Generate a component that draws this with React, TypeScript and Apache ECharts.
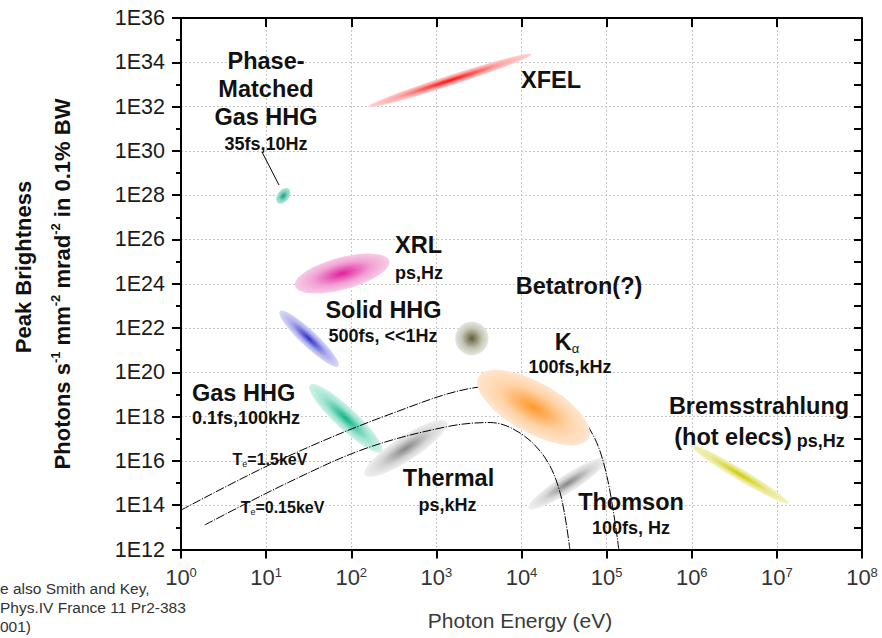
import React, { useEffect, useRef } from 'react';
import * as echarts from 'echarts';

const FONT = '"Liberation Sans", Arial, Helvetica, sans-serif';

// Thermal emission curves: photon energy (eV) and peak brightness
const curveHotEnergy = [1, 14.5, 310, 3266, 11060, 30100, 67300, 101000, 139000];
const curveHotBright = [6e13, 1.1e16, 1.45e18, 2.2e19, 2.7e19, 7.7e18, 1.8e17, 1.95e15, 1e12];
const curveColdEnergy = [1.9, 19, 152, 1325, 4290, 9660, 19000, 28500, 37000];
const curveColdBright = [1.28e13, 1.15e15, 3.8e16, 3.5e17, 5.4e17, 1.8e17, 1.35e16, 3.5e14, 1e12];

// Source regions: extent along the main axis (energy in eV, brightness)
const sourceNames = ['XFEL', 'Phase-Matched Gas HHG', 'XRL', 'Solid HHG', 'Betatron', 'Gas HHG', 'Kα', 'Thermal', 'Thomson', 'Bremsstrahlung'];
const sourceEnergyFrom = [158, 13.7, 21.8, 14.5, 1660, 32.7, 3120, 145, 12100, 9.7e5];
const sourceBrightFrom = [9.8e31, 4.5e27, 7.9e23, 5.8e22, 3.4e21, 2.7e19, 6.3e19, 2.3e15, 7.2e13, 5.2e16];
const sourceEnergyTo = [13000, 18.5, 280, 70.3, 4100, 228, 61400, 1325, 101000, 1.38e7];
const sourceBrightTo = [2.3e34, 1.9e28, 1.07e25, 1.9e20, 3.4e21, 2.6e16, 1.05e17, 5.9e17, 1.3e16, 1.2e14];

// Axis ticks (exponents)
const xExponents = [0, 8];
const yExponents = [12, 36];

// Styles of the regions
const sourceWidthRatio = [0.06, 0.65, 0.33, 0.2, 1, 0.22, 0.4, 0.25, 0.19, 0.1];
const sourceCore = ['#ff0a0a', '#10a080', '#e0209f', '#3030cc', '#5e5e36', '#10b48a', '#ff982c', '#888888', '#868686', '#cccc00'];
const sourceEdge = ['#ffd2d2', '#aee6d6', '#f7cce6', '#d8d8f6', '#e6e6de', '#cff2e7', '#ffe6d0', '#efefef', '#f0f0f0', '#f3f3c4'];
const sourceOnTop = [false, false, false, false, false, false, true, false, false, false];

function hexRgb(c: string) {
  return [parseInt(c.slice(1, 3), 16), parseInt(c.slice(3, 5), 16), parseInt(c.slice(5, 7), 16)];
}
function mix(a: string, b: string, t: number) {
  const A = hexRgb(a);
  const B = hexRgb(b);
  return 'rgb(' + A.map((v, i) => Math.round(v + (B[i] - v) * t)).join(',') + ')';
}

const lg = (v: number) => Math.log10(v);

function regionData(top: boolean) {
  const out: number[][] = [];
  sourceNames.forEach((_, i) => {
    if (sourceOnTop[i] !== top) return;
    out.push([lg(sourceEnergyFrom[i]), lg(sourceBrightFrom[i]), lg(sourceEnergyTo[i]), lg(sourceBrightTo[i]), i]);
  });
  return out;
}

const renderRegion = (params: any, api: any) => {
  const p1 = api.coord([api.value(0), api.value(1)]);
  const p2 = api.coord([api.value(2), api.value(3)]);
  const i = api.value(4) as number;
  const dx = p2[0] - p1[0];
  const dy = p2[1] - p1[1];
  const a = Math.hypot(dx, dy) / 2;
  const b = a * sourceWidthRatio[i];
  const core = sourceCore[i];
  const edge = sourceEdge[i];
  return {
    type: 'ellipse',
    x: (p1[0] + p2[0]) / 2,
    y: (p1[1] + p2[1]) / 2,
    rotation: -Math.atan2(dy, dx),
    shape: { cx: 0, cy: 0, rx: a, ry: b },
    style: {
      fill: new echarts.graphic.RadialGradient(0.5, 0.5, 0.5, [
        { offset: 0, color: core },
        { offset: 0.2, color: mix(core, edge, 0.25) },
        { offset: 0.6, color: mix(core, edge, 0.75) },
        { offset: 1, color: edge },
      ]),
      stroke: null,
    },
  };
};

const INK = '#111';

function label(text: string, x: number, y: number, size: number, align: string = 'center', extra: any = {}) {
  return {
    type: 'text',
    x,
    y,
    silent: true,
    z: 100,
    style: {
      text,
      fill: INK,
      font: `bold ${size}px ${FONT}`,
      fontSize: size,
      fontWeight: 'bold',
      fontFamily: FONT,
      align,
      verticalAlign: 'middle',
      textAlign: align,
      textVerticalAlign: 'middle',
      ...extra,
    },
  };
}

const BIG = 23.5;
const SMALL = 18;

function buildOption() {
  const axisLine = { show: true, onZero: false, lineStyle: { color: '#000', width: 2 } };
  const grid = { color: '#c6c6c6', type: [2, 2], width: 1 };
  const curveDash = [9, 1.5, 1.2, 1.5];

  const teRich = {
    t: { fontSize: 16, fontWeight: 'bold', fontFamily: FONT, fill: INK, color: INK, lineHeight: 18 },
    e: { fontSize: 9, fontWeight: 'normal', fontFamily: FONT, fill: INK, color: INK, lineHeight: 9, verticalAlign: 'bottom' },
  };

  const graphic: any[] = [
    // y-axis title
    {
      type: 'text', x: 23, y: 267, rotation: Math.PI / 2, silent: true,
      style: { text: 'Peak Brightness', fill: INK, font: `bold 22px ${FONT}`, align: 'center', verticalAlign: 'middle', textAlign: 'center', textVerticalAlign: 'middle' },
    },
    {
      type: 'text', x: 62, y: 284, rotation: Math.PI / 2, silent: true,
      style: {
        text: '{m|Photons s}{u|-1}{m| mm}{u|-2}{m| mrad}{u|-2}{m| in 0.1% BW}',
        align: 'center', verticalAlign: 'middle', textAlign: 'center', textVerticalAlign: 'middle',
        fontSize: 22, fontWeight: 'bold', fontFamily: FONT, fill: INK,
        rich: {
          m: { fontSize: 22, fontWeight: 'bold', fontFamily: FONT, fill: INK, color: INK, lineHeight: 26 },
          u: { fontSize: 13, fontWeight: 'bold', fontFamily: FONT, fill: INK, color: INK, lineHeight: 12, verticalAlign: 'top' },
        },
      },
    },
    // x-axis title
    {
      type: 'text', x: 520, y: 620, silent: true,
      style: { text: 'Photon Energy (eV)', fill: '#3a3a3a', font: `21px ${FONT}`, align: 'center', verticalAlign: 'middle', textAlign: 'center', textVerticalAlign: 'middle' },
    },
    // footnote (cropped at the left)
    ...['e also Smith and Key,', 'Phys.IV France 11 Pr2-383', '001)'].map((t, k) => ({
      type: 'text', x: 0, y: 588 + k * 19, silent: true,
      style: { text: t, fill: '#333', font: `15.5px ${FONT}`, align: 'left', verticalAlign: 'middle', textAlign: 'left', textVerticalAlign: 'middle' },
    })),
    // pointer for phase-matched HHG
    { type: 'line', silent: true, z: 100, shape: { x1: 262, y1: 152, x2: 279, y2: 185 }, style: { stroke: '#000', lineWidth: 1 } },
    // annotations
    label('Phase-', 266, 61, BIG),
    label('Matched', 266, 89, BIG),
    label('Gas HHG', 266, 117, BIG),
    label('35fs,10Hz', 266, 143.5, SMALL),
    label('XFEL', 551, 80, BIG),
    label('XRL', 395, 245, BIG, 'left'),
    label('ps,Hz', 395, 273, SMALL, 'left'),
    label('Betatron(?)', 579, 286, BIG),
    label('Solid HHG', 383.5, 310, BIG),
    label('500fs, <<1Hz', 383, 336, SMALL),
    label('{k|K}{a|α}', 567, 342, BIG, 'center', {
      rich: {
        k: { fontSize: BIG, fontWeight: 'bold', fontFamily: FONT, fill: INK, color: INK, lineHeight: 26 },
        a: { fontSize: 13, fontWeight: 'normal', fontFamily: FONT, fill: INK, color: INK, lineHeight: 12, verticalAlign: 'bottom' },
      },
    }),
    label('100fs,kHz', 570, 367, SMALL),
    label('Gas HHG', 192, 393, BIG, 'left'),
    label('0.1fs,100kHz', 192, 418, SMALL, 'left'),
    label('{t|T}{e|e}{t|=1.5keV}', 270, 459, 16, 'center', { rich: teRich }),
    label('{t|T}{e|e}{t|=0.15keV}', 282.5, 507, 16, 'center', { rich: teRich }),
    label('Thermal', 448.5, 478, BIG),
    label('ps,kHz', 447.5, 505, SMALL),
    label('Thomson', 631, 502, BIG),
    label('100fs, Hz', 631, 528, SMALL),
    label('Bremsstrahlung', 759, 406, BIG),
    label('{b|(hot elecs)}{s| ps,Hz}', 759.5, 437, BIG, 'center', {
      rich: {
        b: { fontSize: BIG, fontWeight: 'bold', fontFamily: FONT, fill: INK, color: INK, lineHeight: 26 },
        s: { fontSize: SMALL, fontWeight: 'bold', fontFamily: FONT, fill: INK, color: INK, lineHeight: 22, verticalAlign: 'bottom' },
      },
    }),
  ];

  return {
    animation: false,
    backgroundColor: '#fff',
    grid: { left: 181, right: 20, top: 18, bottom: 88.5, containLabel: false, outerBoundsMode: 'none' },
    xAxis: [
      {
        type: 'value', position: 'bottom', min: xExponents[0], max: xExponents[1], interval: 1,
        axisLine,
        axisTick: { show: true, inside: false, length: 9, lineStyle: { color: '#000', width: 2 } },
        axisLabel: {
          margin: 16,
          formatter: (v: number) => `{b|10}{s|${Math.round(v)}}`,
          rich: {
            b: { fontSize: 22, fontFamily: FONT, color: '#333', lineHeight: 24 },
            s: { fontSize: 13, fontFamily: FONT, color: '#333', lineHeight: 9, verticalAlign: 'top' },
          },
        },
        splitLine: { show: true, lineStyle: grid },
      },
      {
        type: 'value', position: 'top', min: xExponents[0], max: xExponents[1], interval: 1,
        axisLine,
        axisTick: { show: true, inside: true, length: 9, lineStyle: { color: '#000', width: 2 } },
        axisLabel: { show: false },
        splitLine: { show: false },
      },
    ],
    yAxis: [
      {
        type: 'value', position: 'left', min: yExponents[0], max: yExponents[1], interval: 2,
        axisLine,
        axisTick: { show: true, inside: false, length: 9, lineStyle: { color: '#000', width: 2 } },
        minorTick: { show: true, splitNumber: 2, length: 5, lineStyle: { color: '#000', width: 2 } },
        axisLabel: { margin: 16, formatter: (v: number) => '1E' + Math.round(v), fontSize: 21.5, fontFamily: FONT, color: '#1a1a1a' },
        splitLine: { show: true, lineStyle: grid },
      },
      {
        type: 'value', position: 'right', min: yExponents[0], max: yExponents[1], interval: 1,
        axisLine,
        axisTick: { show: true, inside: true, length: 8, lineStyle: { color: '#000', width: 2 } },
        axisLabel: { show: false },
        splitLine: { show: false },
      },
    ],
    series: [
      {
        type: 'custom', name: 'regions', z: 2, silent: true, renderItem: renderRegion,
        encode: { x: [0, 2], y: [1, 3] }, data: regionData(false), clip: true,
      },
      {
        type: 'line', name: 'Te=1.5keV', z: 3, silent: true, showSymbol: false, smooth: 0.35,
        data: curveHotEnergy.map((e, i) => [lg(e), lg(curveHotBright[i])]),
        lineStyle: { color: '#000', width: 1, type: curveDash }, clip: true,
      },
      {
        type: 'line', name: 'Te=0.15keV', z: 3, silent: true, showSymbol: false, smooth: 0.35,
        data: curveColdEnergy.map((e, i) => [lg(e), lg(curveColdBright[i])]),
        lineStyle: { color: '#000', width: 1, type: curveDash }, clip: true,
      },
      {
        type: 'custom', name: 'regionsTop', z: 4, silent: true, renderItem: renderRegion,
        encode: { x: [0, 2], y: [1, 3] }, data: regionData(true), clip: true,
      },
    ],
    graphic,
  };
}

export default function App() {
  const ref = useRef<HTMLDivElement>(null);
  useEffect(() => {
    if (!ref.current) return;
    const chart = echarts.init(ref.current, undefined, { renderer: 'svg' });
    chart.setOption(buildOption() as any);
    return () => chart.dispose();
  }, []);
  return (
    <div
      ref={ref}
      style={{ position: 'fixed', left: 0, top: 0, width: 882, height: 638, background: '#fff' }}
    />
  );
}
